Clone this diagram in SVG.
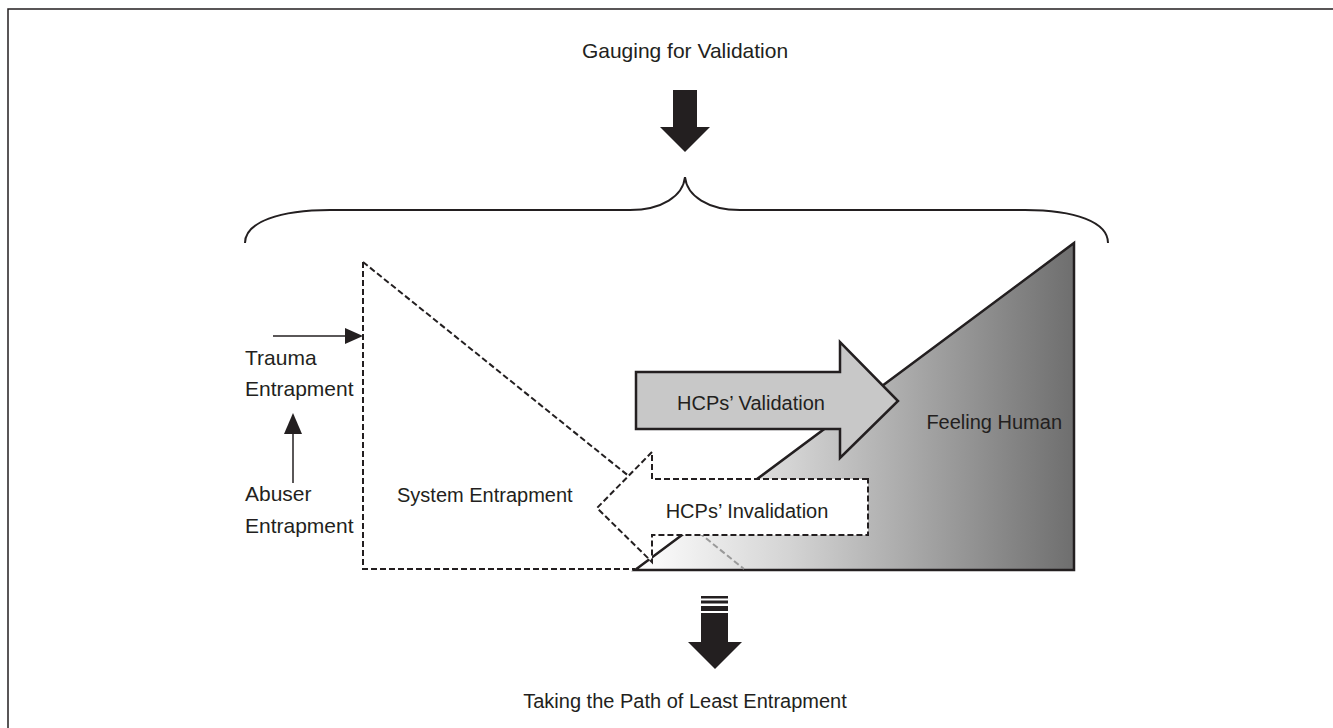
<svg xmlns="http://www.w3.org/2000/svg" width="1333" height="728" viewBox="0 0 1333 728">
<style>
text{font-family:"Liberation Sans",Arial,sans-serif;font-size:20px;fill:#231f20}
.lbl{font-size:21px}
.dash{fill:none;stroke:#231f20;stroke-width:2;stroke-dasharray:6,3}
.solid{fill:none;stroke:#231f20;stroke-width:2}
</style>
<defs>
<linearGradient id="g" x1="635" y1="0" x2="1075" y2="0" gradientUnits="userSpaceOnUse">
<stop offset="0" stop-color="#ffffff"/>
<stop offset="0.35" stop-color="#d4d4d4"/>
<stop offset="1" stop-color="#6e6e6e"/>
</linearGradient>
</defs>
<rect width="1333" height="728" fill="#fff"/>
<path d="M8,730 V9 H1335" fill="none" stroke="#231f20" stroke-width="1.5"/>

<g id="top-label"><text x="685" y="58" text-anchor="middle" class="lbl">Gauging for Validation</text></g>
<g id="top-arrow"><polygon points="673,90 697,90 697,127 710,127 685,152 660,127 673,127" fill="#231f20"/></g>
<g id="brace"><path class="solid" stroke-width="1.5" d="M245,243 C245,222 280,210 330,210 L630,210 C662,210 683,196 685,177 C687,196 708,210 740,210 L1025,210 C1075,210 1108,222 1108,243"/></g>

<g id="feeling-human">
<polygon points="635,570 1074,243 1074,570" fill="url(#g)" stroke="#231f20" stroke-width="2.5" stroke-linejoin="miter"/>
<text x="1062" y="429" text-anchor="end">Feeling Human</text>
</g>

<g id="system-entrapment">
<path class="dash" d="M363,262 V569 H635"/>
<path class="dash" d="M363,262 L692,527"/>
<path d="M692,527 L744,569" fill="none" stroke="#9a9a9a" stroke-width="2" stroke-dasharray="6,3"/>
<text x="397" y="502">System Entrapment</text>
</g>

<g id="validation">
<polygon points="636,372 840,372 840,342 898,401 840,458 840,429 636,429" fill="#c8c8c8" stroke="#231f20" stroke-width="2.5"/>
<text x="751" y="410" text-anchor="middle">HCPs’ Validation</text>
</g>

<g id="invalidation">
<polygon points="868,479 652,479 652,452 597,508 652,562 652,535 868,535" fill="#fff" stroke="#231f20" stroke-width="2" stroke-dasharray="6,3"/>
<text x="747" y="518" text-anchor="middle">HCPs’ Invalidation</text>
</g>

<g id="trauma"><text x="245" y="365" class="lbl">Trauma</text><text x="245" y="396" class="lbl">Entrapment</text></g>
<g id="abuser"><text x="245" y="501" class="lbl">Abuser</text><text x="245" y="533" class="lbl">Entrapment</text></g>

<g id="connectors">
<line x1="273" y1="336" x2="347" y2="336" stroke="#231f20" stroke-width="1.5"/>
<polygon points="345,328 363,336 345,344" fill="#231f20"/>
<line x1="293" y1="483" x2="293" y2="432" stroke="#231f20" stroke-width="1.5"/>
<polygon points="284,434 293,413 302,434" fill="#231f20"/>
</g>

<g id="bottom-arrow" fill="#231f20">
<rect x="701" y="596" width="27" height="2.5"/>
<rect x="701" y="600.5" width="27" height="3"/>
<rect x="701" y="606" width="27" height="5"/>
<rect x="701" y="613" width="27" height="30"/>
<polygon points="688,642 742,642 715,669"/>
</g>
<g id="bottom-label"><text x="685" y="708" text-anchor="middle">Taking the Path of Least Entrapment</text></g>
</svg>
